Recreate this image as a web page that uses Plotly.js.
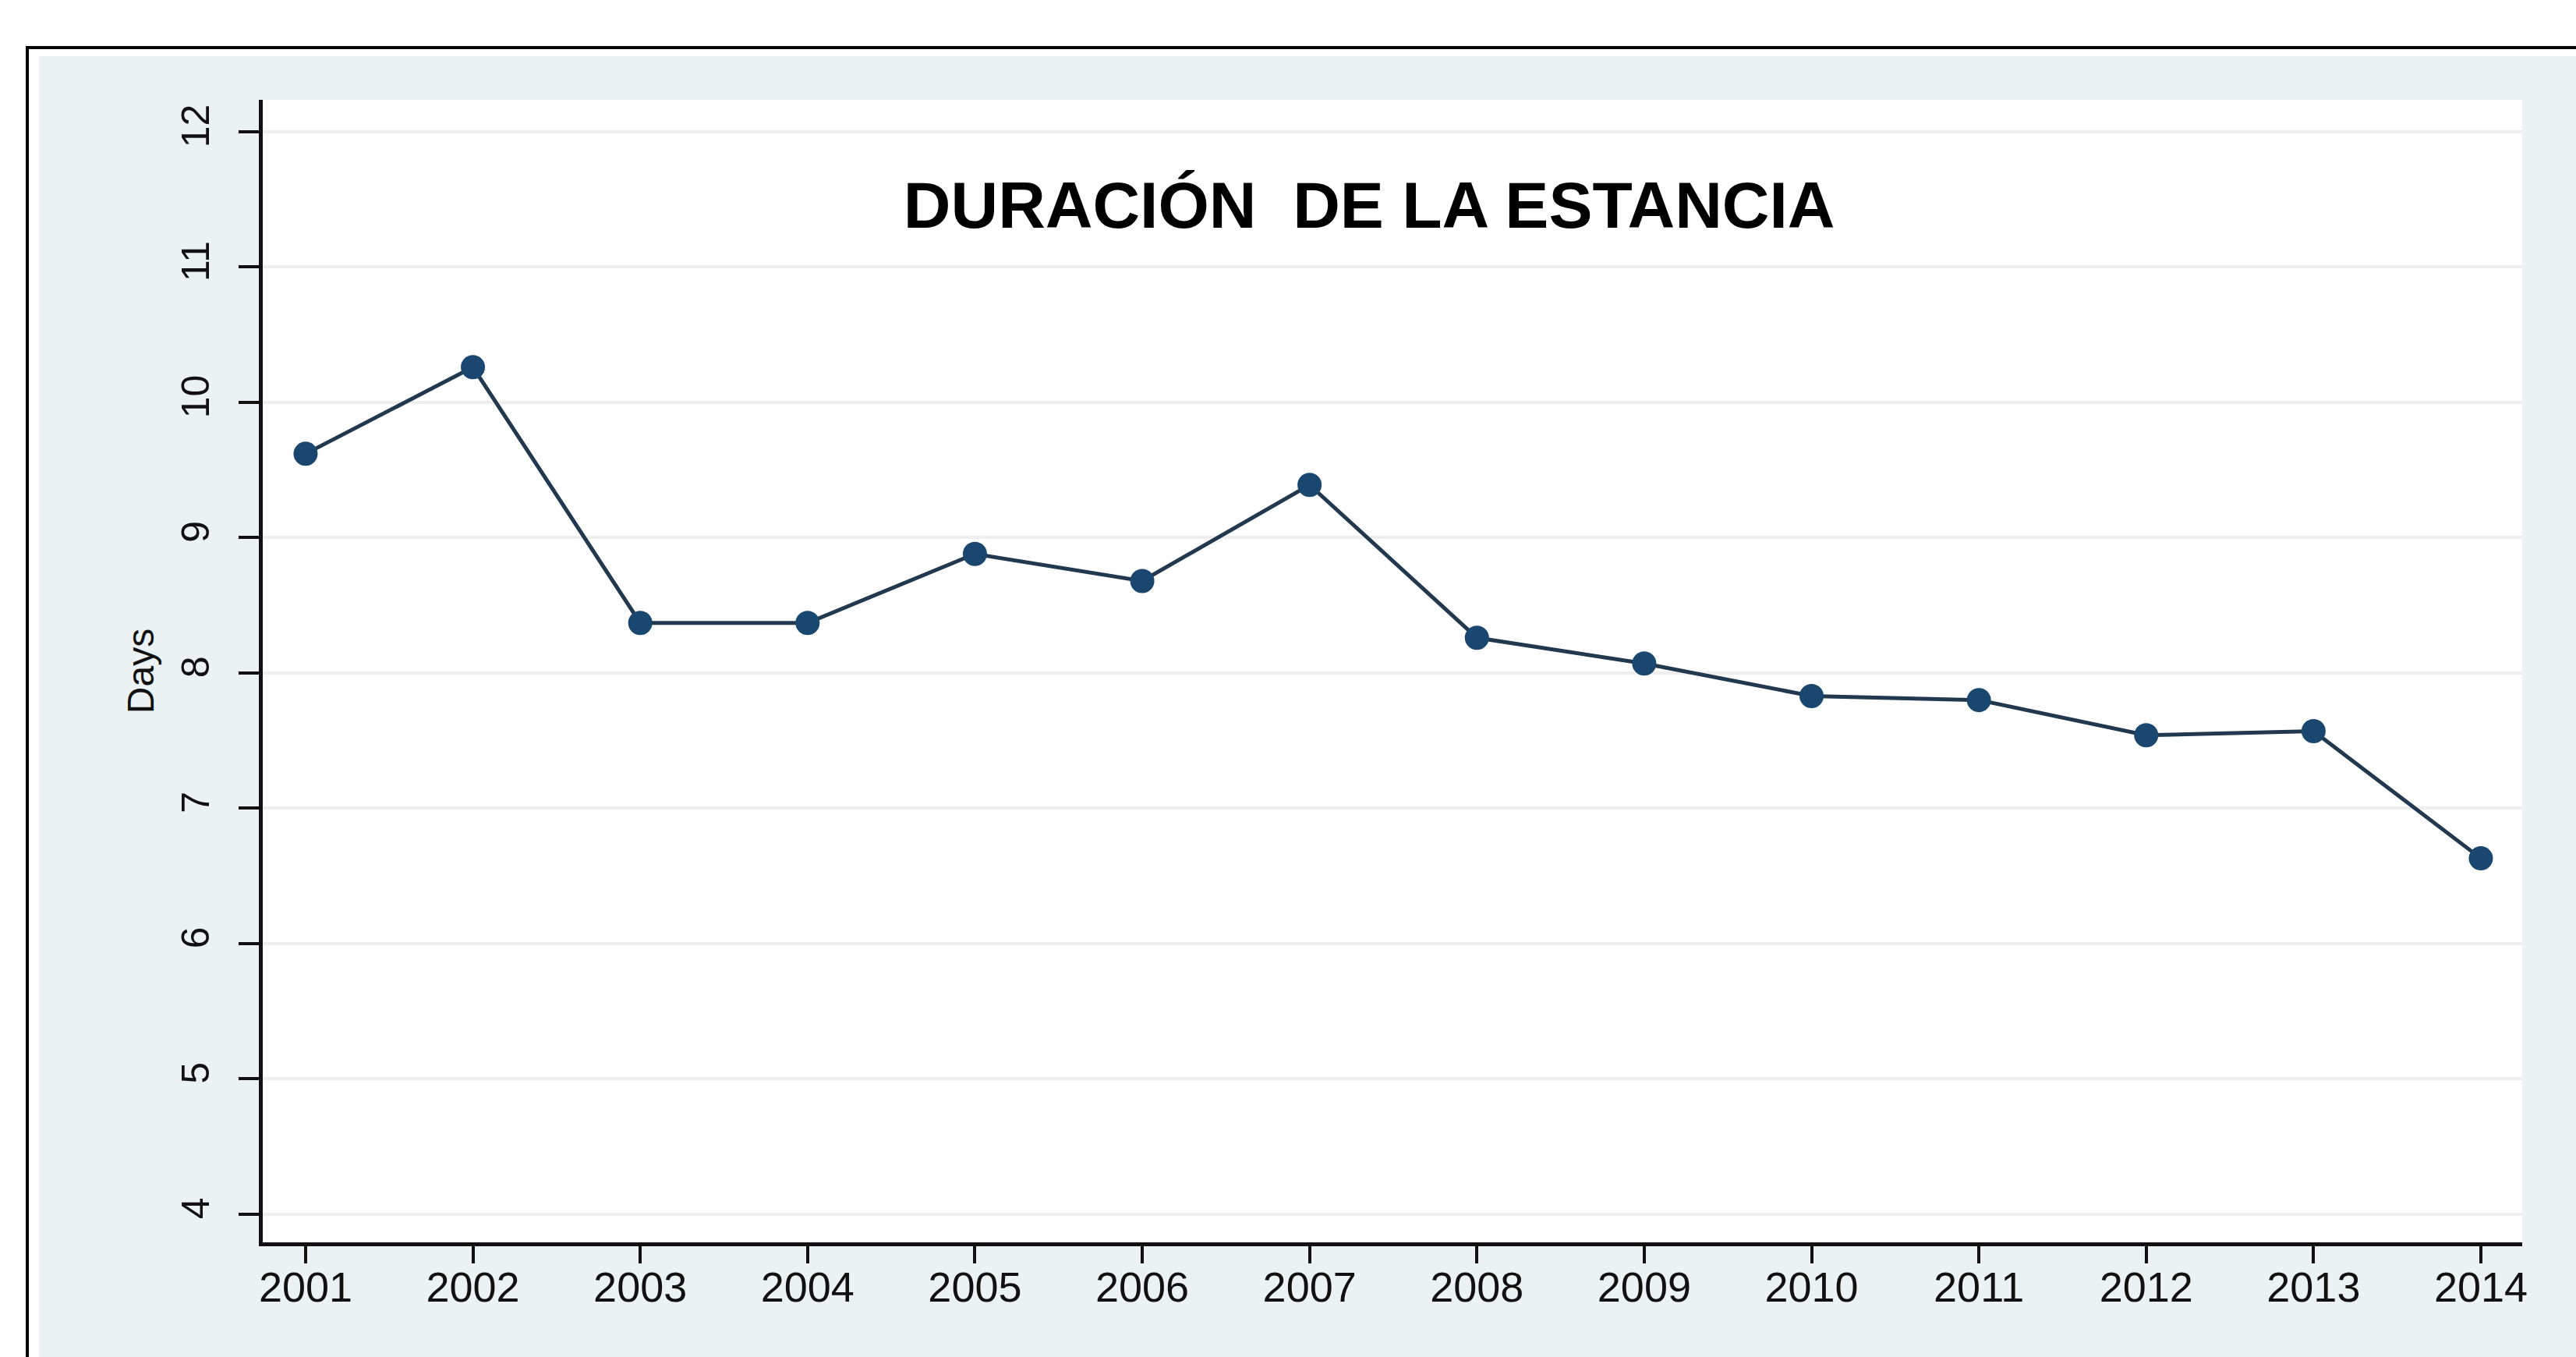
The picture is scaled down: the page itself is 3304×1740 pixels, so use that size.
<!DOCTYPE html>
<html>
<head>
<meta charset="utf-8">
<script src="https://cdn.plot.ly/plotly-3.0.1.min.js"></script>
<style>
  html, body { margin: 0; padding: 0; background: #ffffff; width: 3304px; height: 1740px; overflow: hidden; }
  #frame { position: absolute; left: 33px; top: 59px; width: 3300px; height: 1700px; border-top: 4px solid #000; border-left: 4px solid #000; }
  #panel { position: absolute; left: 50px; top: 72px; right: 0; bottom: 0; background: #eaf2f3; }
  #plot { position: absolute; left: 0; top: 0; width: 3304px; height: 1740px; }
</style>
</head>
<body>
<div id="frame"></div>
<div id="panel"></div>
<div id="plot"></div>
<script>
const years = [2001, 2002, 2003, 2004, 2005, 2006, 2007, 2008, 2009, 2010, 2011, 2012, 2013, 2014];
const days = [9.62, 10.26, 8.37, 8.37, 8.88, 8.68, 9.39, 8.26, 8.07, 7.83, 7.80, 7.54, 7.57, 6.63];
const yTicks = [4, 5, 6, 7, 8, 9, 10, 11, 12];
const titleText = "DURACIÓN  DE LA ESTANCIA";
const yTitle = "Days";

const font = "Liberation Sans, Arial, Helvetica, sans-serif";

const trace = {
  x: years,
  y: days,
  type: "scatter",
  mode: "lines+markers",
  line: { color: "#22384f", width: 5 },
  marker: { color: "#1a476f", size: 31, line: { width: 0 } },
  hoverinfo: "none",
  showlegend: false
};

const layout = {
  width: 3304,
  height: 1740,
  paper_bgcolor: "rgba(0,0,0,0)",
  plot_bgcolor: "#ffffff",
  margin: { l: 337, r: 69, t: 128, b: 147, pad: 0 },
  showlegend: false,
  title: {
    text: "<b>" + titleText + "</b>",
    font: { family: font, size: 84, color: "#000000" },
    xref: "paper", x: 0.4897, xanchor: "center",
    yref: "container", y: 1 - 263 / 1740, yanchor: "middle"
  },
  xaxis: {
    range: [2000.744, 2014.247],
    tickmode: "array",
    tickvals: years,
    ticktext: years.map(String),
    showgrid: false,
    zeroline: false,
    showline: true,
    linecolor: "#111111",
    linewidth: 5,
    ticks: "outside",
    ticklen: 22,
    tickwidth: 4,
    tickcolor: "#111111",
    ticklabelstandoff: -16,
    tickfont: { family: font, size: 54, color: "#111111" }
  },
  yaxis: {
    range: [3.792, 12.236],
    tickmode: "array",
    tickvals: yTicks,
    ticktext: yTicks.map(String),
    tickangle: -90,
    showgrid: true,
    gridcolor: "#eeeeee",
    gridwidth: 4,
    zeroline: false,
    showline: true,
    linecolor: "#111111",
    linewidth: 5,
    ticks: "outside",
    ticklen: 26,
    tickwidth: 4,
    tickcolor: "#111111",
    ticklabelstandoff: 18,
    tickfont: { family: font, size: 50, color: "#111111" },
    title: {
      text: yTitle,
      font: { family: font, size: 48, color: "#111111" },
      standoff: 12
    }
  }
};

Plotly.newPlot("plot", [trace], layout, { displayModeBar: false, staticPlot: true });
</script>
</body>
</html>
